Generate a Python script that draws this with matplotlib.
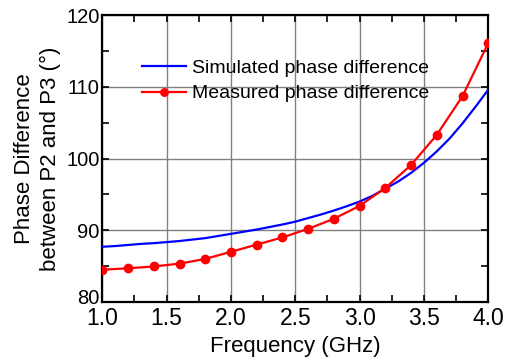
import matplotlib
matplotlib.use("Agg")
import matplotlib.pyplot as plt
from matplotlib.ticker import MultipleLocator
from matplotlib.transforms import ScaledTranslation

plt.rcParams['font.family'] = ['Liberation Sans', 'DejaVu Sans']

# Simulated phase difference (smooth curve)
sim_freq = [1.0, 1.1, 1.2, 1.3, 1.4, 1.5, 1.6, 1.7, 1.8, 1.9, 2.0,
            2.1, 2.2, 2.3, 2.4, 2.5, 2.6, 2.7, 2.8, 2.9, 3.0,
            3.1, 3.2, 3.3, 3.4, 3.5, 3.6, 3.7, 3.8, 3.9, 4.0]
sim_phase = [87.7, 87.8, 87.95, 88.1, 88.2, 88.35, 88.5, 88.7, 88.9, 89.2, 89.5,
             89.8, 90.1, 90.45, 90.8, 91.2, 91.7, 92.2, 92.75, 93.35, 94.0,
             94.8, 95.8, 96.8, 98.0, 99.4, 101.0, 102.8, 104.9, 107.2, 109.6]

# Measured phase difference
meas_freq = [1.0, 1.2, 1.4, 1.6, 1.8, 2.0, 2.2, 2.4, 2.6, 2.8, 3.0,
             3.2, 3.4, 3.6, 3.8, 4.0]
meas_phase = [84.5, 84.7, 84.95, 85.35, 86.0, 87.0, 88.0, 89.0, 90.2, 91.6, 93.4,
              95.9, 99.1, 103.3, 108.7, 116.1]

fig = plt.figure(figsize=(5.07, 3.6), dpi=100)
ax = fig.add_axes([0.2018, 0.1611, 0.7613, 0.7972])

ax.plot(sim_freq, sim_phase, color='#0000ff', lw=1.6, label='Simulated phase difference', zorder=3)
ax.plot(meas_freq, meas_phase, color='#ff0000', lw=1.6, marker='o', ms=6,
        label='Measured phase difference', zorder=4)

ax.set_xlim(1.0, 4.0)
ax.set_ylim(80, 120)
ax.xaxis.set_major_locator(MultipleLocator(0.5))
ax.xaxis.set_minor_locator(MultipleLocator(0.25))
ax.yaxis.set_major_locator(MultipleLocator(10))
ax.yaxis.set_minor_locator(MultipleLocator(5))

ax.grid(True, which='major', color='#808080', lw=1.0, zorder=0)
ax.tick_params(which='both', direction='in', top=True, right=True, width=1.2,
               colors='black')
ax.tick_params(which='major', length=5)
ax.tick_params(which='minor', length=5)
ax.tick_params(axis='x', which='major', labelsize=16.5, pad=3.5)
ax.tick_params(axis='y', which='major', labelsize=14.5, pad=2)
for s in ax.spines.values():
    s.set_linewidth(1.6)

ax.set_xlabel('Frequency (GHz)', fontsize=16, labelpad=4.5)
ax.set_ylabel('Phase Difference\nbetween P2 and P3 (°)', fontsize=16, labelpad=4,
              linespacing=1.3)

ax.legend(loc='upper left', bbox_to_anchor=(0.102, 0.845), frameon=False,
          fontsize=14, handlelength=2.3, handletextpad=0.3, borderpad=0,
          labelspacing=0.4, borderaxespad=0, markerscale=0.9)

# lift the bottom y tick label so it clears the "1.0" label
fig.canvas.draw()
for tick in ax.yaxis.get_major_ticks():
    if abs(tick.get_loc() - 80) < 1e-6:
        lbl = tick.label1
        lbl.set_transform(lbl.get_transform() +
                          ScaledTranslation(0, 4.0 / 72, fig.dpi_scale_trans))

fig.savefig('out.png', dpi=100)
